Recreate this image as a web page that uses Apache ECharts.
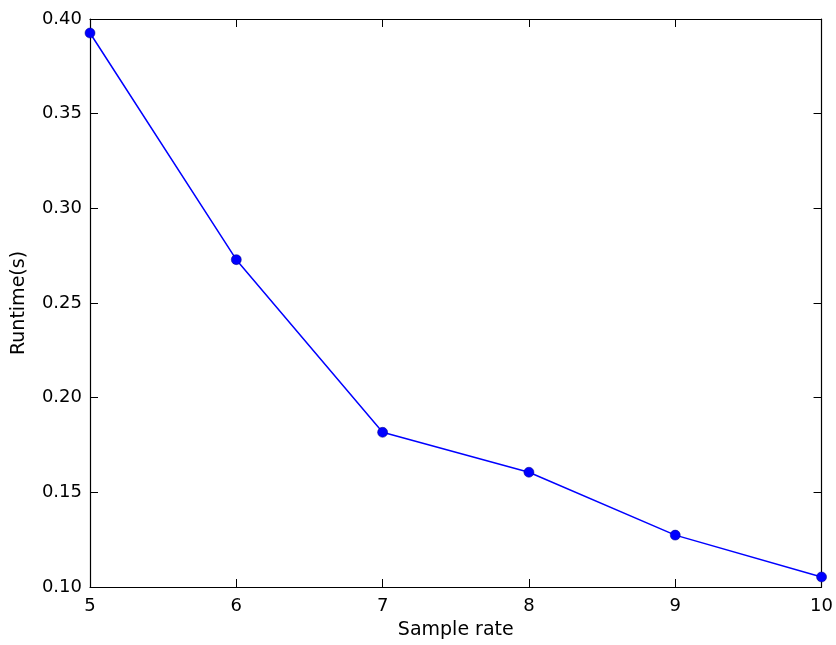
<!DOCTYPE html>
<html><head><meta charset="utf-8">
<script src="https://cdn.jsdelivr.net/npm/echarts@6/dist/echarts.min.js"></script>
<style>html,body{margin:0;padding:0;background:#fff}#c{width:836px;height:645px}</style>
</head><body><div id="c"></div>
<script>
const sampleRates = [5, 6, 7, 8, 9, 10];
const runtimes = [0.3926, 0.2729, 0.1817, 0.1606, 0.1274, 0.1053];
const yTicks = [0.10, 0.15, 0.20, 0.25, 0.30, 0.35, 0.40];

const font = 'DejaVu Sans';
const axisLine = {show: true, lineStyle: {color: '#000', width: 1.2}};
const tick = {show: true, inside: true, length: 8, lineStyle: {color: '#000', width: 1}};
const chart = echarts.init(document.getElementById('c'), null, {renderer: 'canvas'});
chart.setOption({
  animation: false,
  backgroundColor: '#fff',
  grid: {left: 90, right: 12, top: 19, bottom: 57, containLabel: false},
  xAxis: [{
    type: 'value', min: 5, max: 10, interval: 1, position: 'bottom',
    name: 'Sample rate', nameLocation: 'middle', nameGap: 34,
    nameTextStyle: {fontFamily: font, fontSize: 19, color: '#000'},
    axisLine: axisLine, axisTick: tick, splitLine: {show: false},
    axisLabel: {fontFamily: font, fontSize: 18, color: '#000', margin: 10}
  }, {
    type: 'value', min: 5, max: 10, interval: 1, position: 'top',
    axisLine: axisLine, axisTick: tick, splitLine: {show: false}, axisLabel: {show: false}
  }],
  yAxis: [{
    type: 'value', min: yTicks[0], max: yTicks[yTicks.length - 1], interval: 0.05, position: 'left',
    name: 'Runtime(s)', nameLocation: 'middle', nameGap: 61, nameRotate: 90,
    nameTextStyle: {fontFamily: font, fontSize: 19, color: '#000'},
    axisLine: axisLine, axisTick: tick, splitLine: {show: false},
    axisLabel: {fontFamily: font, fontSize: 18, color: '#000', margin: 8,
      formatter: v => v.toFixed(2)}
  }, {
    type: 'value', min: yTicks[0], max: yTicks[yTicks.length - 1], interval: 0.05, position: 'right',
    axisLine: axisLine, axisTick: tick, splitLine: {show: false}, axisLabel: {show: false}
  }],
  series: [{
    type: 'line',
    data: sampleRates.map((x, i) => [x, runtimes[i]]),
    xAxisIndex: 0, yAxisIndex: 0,
    symbol: 'circle', symbolSize: 10,
    lineStyle: {color: '#0000ff', width: 1.5},
    itemStyle: {color: '#0000ff', borderColor: '#000080', borderWidth: 0.5},
    clip: false
  }]
});
</script></body></html>
